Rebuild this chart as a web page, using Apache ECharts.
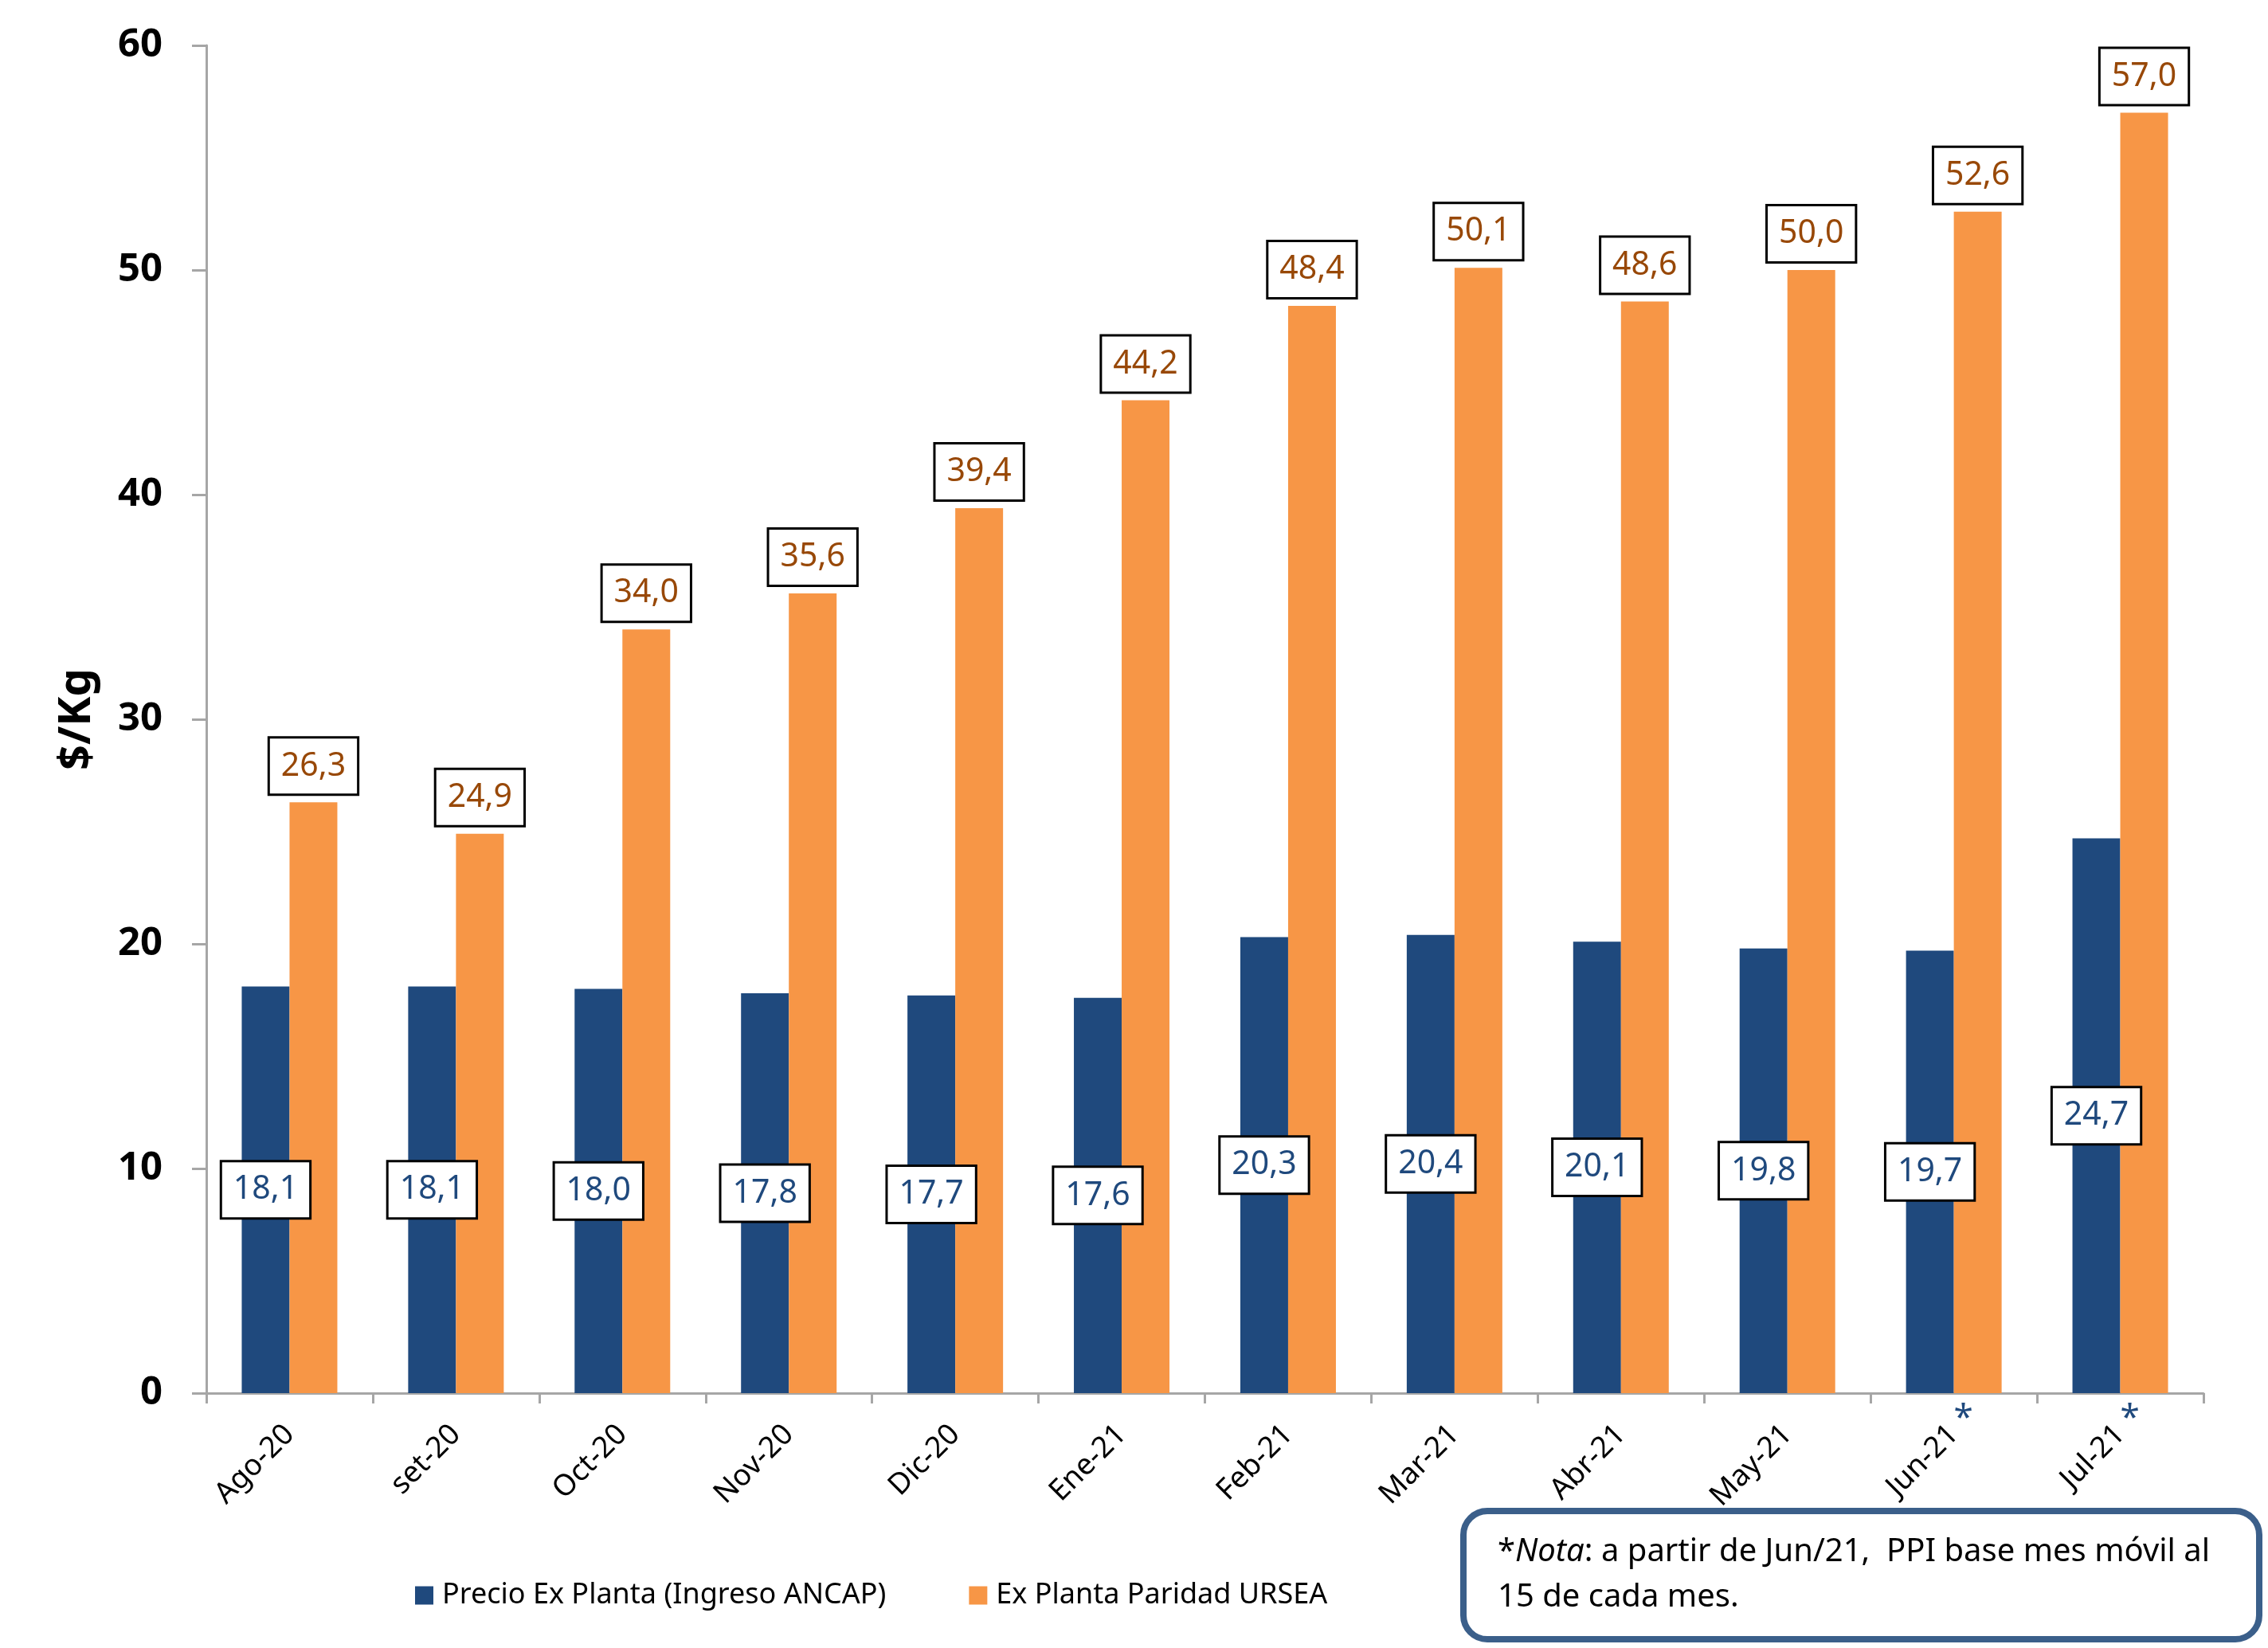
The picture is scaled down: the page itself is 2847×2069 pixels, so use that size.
<!DOCTYPE html>
<html>
<head>
<meta charset="utf-8">
<script src="https://cdn.jsdelivr.net/npm/echarts@6/dist/echarts.min.js"></script>
<style>
html,body{margin:0;padding:0;background:#fff;}
#c{width:2847px;height:2069px;}
</style>
</head>
<body>
<div id="c"></div>
<script>
var categories = ['Ago-20','set-20','Oct-20','Nov-20','Dic-20','Ene-21','Feb-21','Mar-21','Abr-21','May-21','Jun-21','Jul-21'];
var precioExPlanta = [18.1, 18.1, 18.0, 17.8, 17.7, 17.6, 20.3, 20.4, 20.1, 19.8, 19.7, 24.7];
var paridadURSEA = [26.3, 24.9, 34.0, 35.6, 39.4, 44.2, 48.4, 50.1, 48.6, 50.0, 52.6, 57.0];
var seriesNames = ['Precio Ex Planta (Ingreso ANCAP)', 'Ex Planta Paridad URSEA'];
var yTicks = {min: 0, max: 60, interval: 10};
var starredCategories = ['Jun-21', 'Jul-21'];

var BLUE = '#1F497D', ORANGE = '#F79646', AXIS = '#A6A6A6';
var FONT = "'Noto Sans', sans-serif";

function fmt(p){ return p.value.toFixed(1).replace('.', ','); }

var labelBox = {
  show: true,
  formatter: fmt,
  fontFamily: FONT,
  fontSize: 41,
  backgroundColor: '#fff',
  borderColor: '#000',
  borderWidth: 3,
  padding: [8, 14, 8, 14],
  lineHeight: 53
};

var chart = echarts.init(document.getElementById('c'), null, {renderer: 'canvas'});
var option = {
  animation: false,
  backgroundColor: '#fff',
  textStyle: {fontFamily: FONT},
  grid: {left: 259, right: 81, top: 57, bottom: 320, containLabel: false},
  legend: {
    left: 516, top: 1980,
    itemWidth: 23, itemHeight: 23, itemGap: 104,
    icon: 'rect',
    textStyle: {fontFamily: FONT, fontSize: 36, color: '#000', padding: [0, 0, 0, 6]},
    data: seriesNames
  },
  xAxis: {
    type: 'category',
    data: categories,
    axisLine: {lineStyle: {color: AXIS, width: 3}},
    axisTick: {show: true, length: 13, lineStyle: {color: AXIS, width: 3}},
    axisLabel: {rotate: 45, interval: 0, color: '#000', fontFamily: FONT, fontSize: 37, margin: 46}
  },
  yAxis: {
    type: 'value',
    min: yTicks.min, max: yTicks.max, interval: yTicks.interval,
    name: '$/Kg', nameLocation: 'middle', nameGap: 134, nameRotate: 90,
    nameTextStyle: {fontFamily: FONT, fontSize: 56, fontWeight: 'bold', color: '#000'},
    axisLine: {show: true, lineStyle: {color: AXIS, width: 3}},
    axisTick: {show: true, length: 18, lineStyle: {color: AXIS, width: 3}},
    axisLabel: {color: '#000', fontFamily: FONT, fontSize: 49, fontWeight: 'bold', margin: 55},
    splitLine: {show: false}
  },
  series: [
    {
      name: seriesNames[0], type: 'bar', data: precioExPlanta,
      barWidth: 60, barGap: '0%',
      itemStyle: {color: BLUE},
      label: Object.assign({}, labelBox, {position: 'inside', color: BLUE})
    },
    {
      name: seriesNames[1], type: 'bar', data: paridadURSEA,
      barWidth: 60, barGap: '0%',
      itemStyle: {color: ORANGE},
      label: Object.assign({}, labelBox, {position: 'top', distance: 11, color: '#984807'})
    }
  ]
};
chart.setOption(option);

var graphics = [];
starredCategories.forEach(function(cat){
  var px = chart.convertToPixel({xAxisIndex: 0}, cat);
  var py = chart.convertToPixel({yAxisIndex: 0}, 0);
  graphics.push({
    type: 'text', x: px + 12, y: py + 32,
    style: {text: '*', fill: BLUE, fontFamily: FONT, fontSize: 44, align: 'center', verticalAlign: 'middle'}
  });
});
graphics.push({
  type: 'rect',
  shape: {x: 1837, y: 1897, width: 999, height: 161, r: 30},
  style: {fill: '#fff', stroke: '#3B5F8A', lineWidth: 8}
});
graphics.push({
  type: 'text', x: 1880, y: 1920,
  style: {
    text: '{n|*}{i|Nota}{n|: a partir de Jun/21,  PPI base mes móvil al}\n{n|15 de cada mes.}',
    fontFamily: FONT, fontSize: 40, lineHeight: 57, fill: '#000',
    rich: {
      n: {fontFamily: FONT, fontSize: 40, lineHeight: 57, fill: '#000'},
      i: {fontFamily: FONT, fontSize: 40, lineHeight: 57, fill: '#000', fontStyle: 'italic'}
    }
  }
});
chart.setOption({graphic: graphics});
</script>
</body>
</html>
